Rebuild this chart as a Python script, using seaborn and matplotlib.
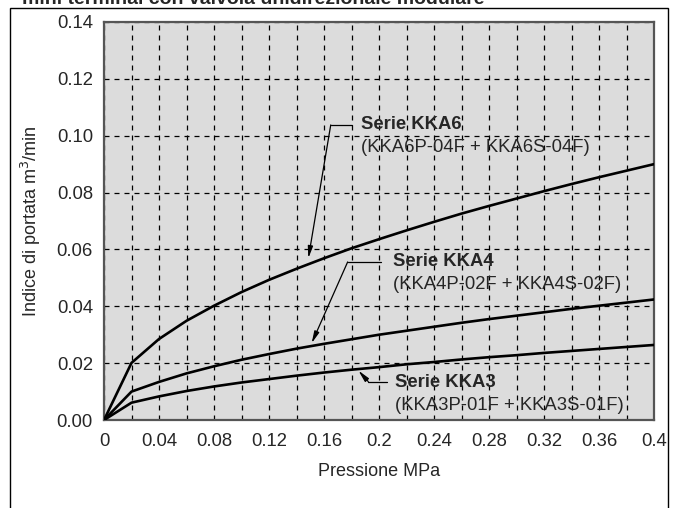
import matplotlib
matplotlib.use('Agg')
import matplotlib.pyplot as plt
import matplotlib.patches as mpatches
from matplotlib.ticker import MultipleLocator
import pandas as pd
import seaborn as sns

# pressure points (MPa) and flow readings (m3/min)
pressure = [0.0, 0.02, 0.04, 0.06, 0.08, 0.10, 0.12, 0.14, 0.16, 0.18, 0.20,
            0.22, 0.24, 0.26, 0.28, 0.30, 0.32, 0.34, 0.36, 0.38, 0.40]
kka6 = [0.0, 0.0201, 0.0285, 0.0349, 0.0402, 0.0450, 0.0493, 0.0532, 0.0569, 0.0604, 0.0636,
        0.0667, 0.0697, 0.0726, 0.0753, 0.0779, 0.0805, 0.0830, 0.0854, 0.0877, 0.0900]
kka4 = [0.0, 0.0100, 0.0134, 0.0164, 0.0189, 0.0212, 0.0232, 0.0251, 0.0268, 0.0284, 0.0300,
        0.0314, 0.0328, 0.0342, 0.0355, 0.0367, 0.0379, 0.0391, 0.0402, 0.0413, 0.0424]
kka3 = [0.0, 0.0061, 0.0083, 0.0102, 0.0118, 0.0132, 0.0144, 0.0156, 0.0167, 0.0177, 0.0186,
        0.0196, 0.0204, 0.0213, 0.0221, 0.0228, 0.0236, 0.0243, 0.0250, 0.0257, 0.0264]

series_names = ["Serie KKA6", "Serie KKA4", "Serie KKA3"]
series_parts = ["(KKA6P-04F + KKA6S-04F)", "(KKA4P-02F + KKA4S-02F)", "(KKA3P-01F + KKA3S-01F)"]

x_ticks = [0, 0.04, 0.08, 0.12, 0.16, 0.2, 0.24, 0.28, 0.32, 0.36, 0.4]
x_tick_labels = ["0", "0.04", "0.08", "0.12", "0.16", "0.2", "0.24", "0.28", "0.32", "0.36", "0.4"]
y_ticks = [0.0, 0.02, 0.04, 0.06, 0.08, 0.10, 0.12, 0.14]

sns.set_style("white", {"axes.facecolor": "#dcdcdc", "axes.edgecolor": "#555555"})
plt.rcParams['font.family'] = ['Liberation Sans', 'DejaVu Sans']

fig = plt.figure(figsize=(6.75, 5.08), dpi=100)
ax = fig.add_axes([0.1541, 0.1732, 0.8148, 0.7835])

for vals in (kka6, kka4, kka3):
    df = pd.DataFrame({"p": pressure, "q": vals})
    sns.lineplot(data=df, x="p", y="q", ax=ax, color="black", lw=1.9, zorder=3)

ax.set_xlim(0, 0.4)
ax.set_ylim(0, 0.14)
ax.set_xticks(x_ticks)
ax.set_xticklabels(x_tick_labels)
ax.set_yticks(y_ticks)
ax.set_yticklabels([f"{v:.2f}" for v in y_ticks])
ax.xaxis.set_minor_locator(MultipleLocator(0.02))
ax.tick_params(axis='both', which='both', length=0, labelsize=13.3)
ax.tick_params(axis='x', pad=9)
ax.tick_params(axis='y', pad=8)
ax.grid(which='both', axis='x', color='black', linestyle=(0, (4, 4)), lw=0.9)
ax.grid(which='major', axis='y', color='black', linestyle=(0, (4, 4)), lw=0.9)
ax.set_axisbelow(True)
for sp in ax.spines.values():
    sp.set_linewidth(1.6)
    sp.set_color("#555555")

ax.set_xlabel("Pressione MPa", fontsize=13, labelpad=10)
ax.set_ylabel("Indice di portata m$^3$/min", fontsize=13, labelpad=10)

# callouts: text position, leader end, leader elbow, arrow tip (data coords)
callouts = [
    ((0.187, 0.1038), (0.180, 0.1038), (0.1649, 0.1038), (0.1486, 0.0569)),
    ((0.210, 0.0556), (0.2015, 0.0556), (0.1772, 0.0556), (0.151, 0.0270)),
    ((0.2116, 0.0132), (0.2056, 0.0135), (0.1922, 0.0135), (0.185, 0.0174)),
]
for (name, part, (txt, hend, elbow, tip)) in zip(series_names, series_parts, callouts):
    ax.text(txt[0], txt[1], name, fontsize=13.3, fontweight='bold', va='center', ha='left')
    ax.text(txt[0], txt[1] - 0.0081, part, fontsize=13.3, va='center', ha='left')
    ax.plot([hend[0], elbow[0]], [hend[1], elbow[1]], color='black', lw=0.9)
    ax.annotate("", xy=tip, xytext=elbow,
                arrowprops=dict(arrowstyle='-|>,head_length=0.7,head_width=0.15',
                                color='black', lw=0.9, shrinkA=0, shrinkB=0))

# outer frame and clipped heading
fig.patches.append(mpatches.Rectangle((10 / 675, -0.01), 658 / 675, 1 - 8 / 508 + 0.01,
                                      transform=fig.transFigure, fill=False,
                                      edgecolor='black', lw=1.0))
fig.text(22 / 675, 1.0, "mini terminal con valvola unidirezionale modulare",
         fontsize=14, fontweight='bold', ha='left', va='center')

fig.savefig("out.png", dpi=100)
plt.close(fig)
